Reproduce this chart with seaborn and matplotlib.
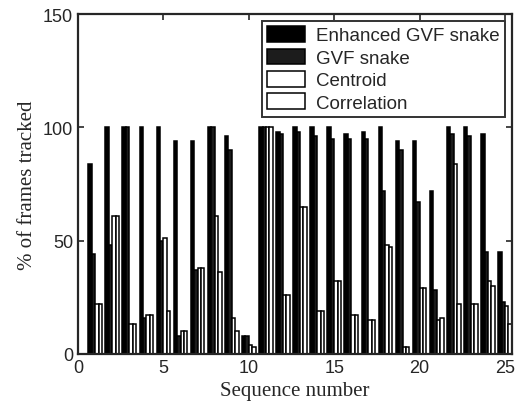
import pandas as pd
import seaborn as sns
import matplotlib.pyplot as plt

# values (% of frames tracked per sequence)
sequences = list(range(1, 26))
enhanced_gvf = [84, 100, 100, 100, 100, 94, 94, 100, 96, 8, 100, 98, 100,
                100, 100, 97, 98, 100, 94, 94, 72, 100, 100, 97, 45]
gvf_snake = [44, 48, 100, 16, 50, 8, 37, 100, 90, 8, 100, 97, 98,
             96, 95, 95, 95, 72, 90, 67, 28, 97, 96, 45, 23]
centroid = [22, 61, 13, 17, 51, 10, 38, 61, 16, 4, 100, 26, 65,
            19, 32, 17, 15, 48, 3, 29, 15, 84, 22, 32, 21]
correlation = [22, 61, 13, 17, 19, 10, 38, 36, 10, 3, 100, 26, 65,
               19, 32, 17, 15, 47, 3, 29, 16, 22, 22, 30, 13]

methods = ['Enhanced GVF snake', 'GVF snake', 'Centroid', 'Correlation']
colors = ['black', '#1c1c1c', 'white', 'white']

rows = []
for name, vals in zip(methods, [enhanced_gvf, gvf_snake, centroid, correlation]):
    for s, v in zip(sequences, vals):
        rows.append({'Sequence': s, 'Method': name, 'Tracked': v})
df = pd.DataFrame(rows)

sns.set_style('ticks')
plt.rcParams['font.family'] = ['Liberation Sans', 'DejaVu Sans']

fig = plt.figure(figsize=(5.17, 4.06), dpi=100)
ax = fig.add_axes([0.151, 0.126, 0.839, 0.837])

sns.barplot(data=df, x='Sequence', y='Tracked', hue='Method', hue_order=methods,
            palette=colors, native_scale=True, edgecolor='black', linewidth=1.1,
            saturation=1, errorbar=None, ax=ax)

ax.set_xlim(0, 25.4)
ax.set_ylim(0, 150)
ax.set_xticks([0, 5, 10, 15, 20, 25])
ax.set_yticks([0, 50, 100, 150])
ax.tick_params(direction='in', labelsize=13, width=1.2, length=4,
               top=True, right=True)
for side in ax.spines.values():
    side.set_linewidth(1.6)
    side.set_visible(True)

ax.set_xlabel('Sequence number', family='Liberation Serif', fontsize=15, labelpad=4)
ax.set_ylabel('% of frames tracked', family='Liberation Serif', fontsize=15, labelpad=4)

handles, labels = ax.get_legend_handles_labels()
leg = ax.legend(handles, labels, loc='upper right', fontsize=13.5, frameon=True,
                fancybox=False, edgecolor='black', handlelength=2.0,
                handleheight=0.9, labelspacing=0.22, borderpad=0.3,
                handletextpad=0.6, borderaxespad=0.35)
leg.get_frame().set_linewidth(1.4)

fig.savefig('out.png', dpi=100)
